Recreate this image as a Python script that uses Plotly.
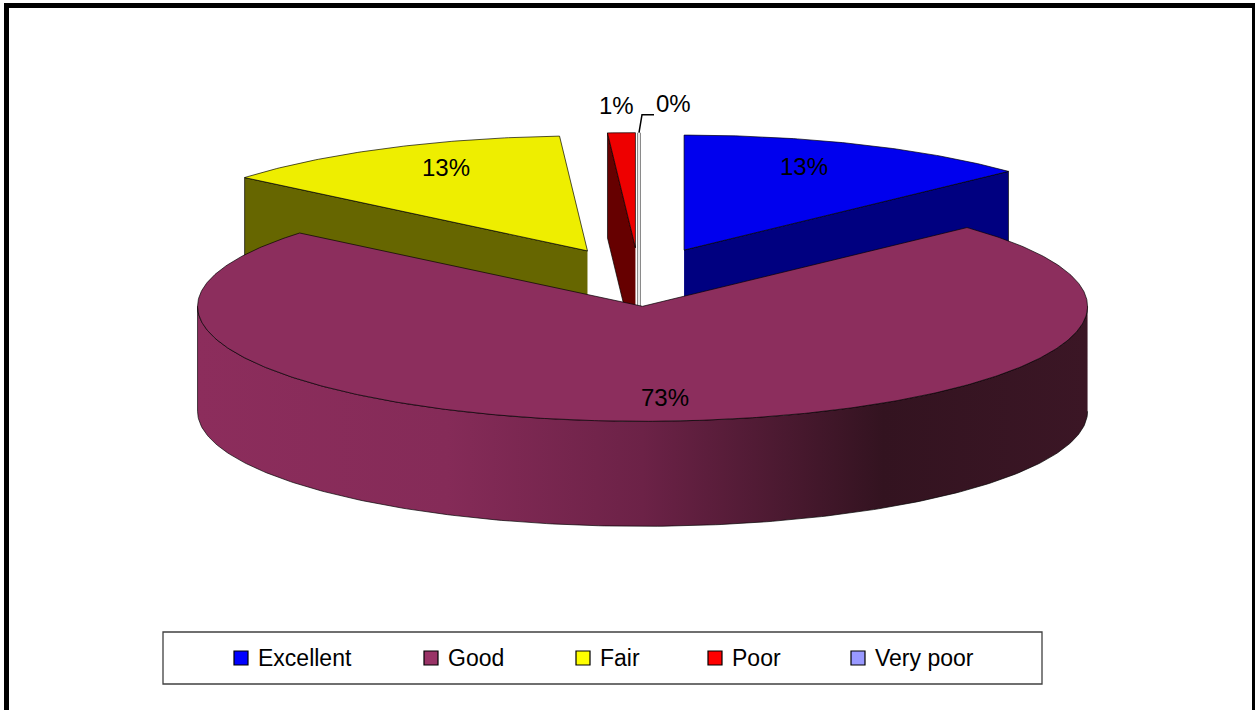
import numpy as np
import plotly.graph_objects as go

# ---- data -------------------------------------------------------------
categories = ["Excellent", "Good", "Fair", "Poor", "Very poor"]
shares = [13, 73, 13, 1, 0]          # percent of responses

# ---- styling ----------------------------------------------------------
top_colors = ["#0000EE", "#8C2E5D", "#EEEE00", "#EE0000", "#8F8FEE"]
side_colors = ["#000080", "#6E2349", "#666600", "#660000", "#5C5C99"]
legend_colors = ["#0000FF", "#993366", "#FFFF00", "#FF0000", "#9999FF"]
good_side_scale = [[0.0, "#8C2D5C"], [0.28, "#852B58"], [0.5, "#6C2247"],
                   [0.77, "#331320"], [1.0, "#3B1625"]]

W, H = 1255, 710
CX, CY = 639.0, 277.0      # pie centre (top face)
RX, RY = 445.0, 115.0      # projected radii of the top ellipse
DEPTH = 105.0              # thickness of the pie
EXPLODE = 0.255            # explosion as a fraction of the radius
EDGE = dict(color="rgba(0,0,0,0.85)", width=0.8)
FONT = "Liberation Sans"

# label placement: fraction of radius along the bisector + pixel nudge
label_frac = [0.68, 0.9, 0.7, 1.0, 1.0]
label_nudge = [(0, -12), (10, -12), (0, -12), (-5, -27), (34, -29)]

fig = go.Figure()


def rim(off, theta, dz=0.0):
    t = np.radians(theta)
    return off[0] + RX * np.sin(t), off[1] - RY * np.cos(t) + dz


def poly(xs, ys, color, **kw):
    fig.add_trace(go.Scatter(x=list(xs), y=list(ys), mode="lines", fill="toself",
                             fillcolor=color, line=EDGE, hoverinfo="skip",
                             showlegend=False, **kw))


total = float(sum(shares))
angles = np.concatenate([[0.0], np.cumsum(shares) / total * 360.0])
slices = []
for i, v in enumerate(shares):
    a0, a1 = angles[i], angles[i + 1]
    mid = (a0 + a1) / 2.0
    m = np.radians(mid)
    off = (CX + EXPLODE * RX * np.sin(m), CY - EXPLODE * RY * np.cos(m))
    slices.append(dict(i=i, a0=a0, a1=a1, mid=mid, off=off))

# paint from the back of the pie to the front
for s in sorted(slices, key=lambda s: -np.cos(np.radians(s["mid"]))):
    i, a0, a1, off = s["i"], s["a0"], s["a1"], s["off"]
    if a1 - a0 < 1e-9:
        # empty slice: only its edge is drawn
        xt, yt = rim(off, a0)
        xs = [off[0], xt, xt, off[0]]
        ys = [off[1], yt, yt + DEPTH, off[1] + DEPTH]
        fig.add_trace(go.Scatter(x=xs, y=ys, mode="lines",
                                 line=dict(color="#8A8A8A", width=4),
                                 hoverinfo="skip", showlegend=False))
        fig.add_trace(go.Scatter(x=xs, y=ys, mode="lines",
                                 line=dict(color="#FFFFFF", width=1.6),
                                 hoverinfo="skip", showlegend=False))
        continue
    # radial faces that turn toward the viewer
    for a, normal in ((a0, a0 - 90.0), (a1, a1 + 90.0)):
        if np.cos(np.radians(normal)) < -1e-6:
            xr, yr = rim(off, a)
            poly([off[0], xr, xr, off[0]],
                 [off[1], yr, yr + DEPTH, off[1] + DEPTH], side_colors[i])
    # outer wall (front half only)
    lo, hi = max(a0, 90.0), min(a1, 270.0)
    if hi > lo:
        th = np.linspace(lo, hi, 240)
        xt, yt = rim(off, th)
        xb, yb = rim(off, th[::-1], DEPTH)
        kw = {}
        if i == 1:
            kw["fillgradient"] = dict(type="horizontal", colorscale=good_side_scale)
        poly(np.concatenate([xt, xb]), np.concatenate([yt, yb]), side_colors[i], **kw)
    # top face
    th = np.linspace(a0, a1, max(4, int((a1 - a0) * 2)))
    xt, yt = rim(off, th)
    poly(np.concatenate([[off[0]], xt, [off[0]]]),
         np.concatenate([[off[1]], yt, [off[1]]]), top_colors[i])

# percentage labels
annotations = []
for s in slices:
    i, off = s["i"], s["off"]
    f = label_frac[i]
    m = np.radians(s["mid"])
    x = off[0] + f * RX * np.sin(m) + label_nudge[i][0]
    y = off[1] - f * RY * np.cos(m) + label_nudge[i][1]
    annotations.append(dict(x=x, y=y, text=f"{shares[i]}%", showarrow=False,
                            font=dict(family=FONT, size=24, color="#000000"),
                            xanchor="center", yanchor="middle"))
    if shares[i] == 0:
        # leader line for the empty slice
        xt, yt = rim(off, s["mid"])
        fig.add_trace(go.Scatter(x=[xt, xt + 3, xt + 15], y=[yt, yt - 18, yt - 18],
                                 mode="lines", line=dict(color="#000000", width=1.5),
                                 hoverinfo="skip", showlegend=False))

# legend box
shapes = [dict(type="rect", xref="x", yref="y", x0=163, x1=1042, y0=632, y1=684,
               line=dict(color="#404040", width=1.3), fillcolor="rgba(0,0,0,0)")]
legend_x = [234, 424, 576, 708, 851]
for i, name in enumerate(categories):
    x0 = legend_x[i]
    shapes.append(dict(type="rect", xref="x", yref="y", x0=x0, x1=x0 + 14,
                       y0=651, y1=665, fillcolor=legend_colors[i],
                       line=dict(color="#000000", width=1.2)))
    annotations.append(dict(x=x0 + 22, y=658, text=name, showarrow=False,
                            xanchor="left", yanchor="middle",
                            font=dict(family=FONT, size=23, color="#000000")))

# outer frame
shapes.append(dict(type="rect", xref="x", yref="y", x0=6.5, x1=1254.5, y0=5.5, y1=730,
                   line=dict(color="#000000", width=5), fillcolor="rgba(0,0,0,0)"))

fig.update_layout(
    width=W, height=H, autosize=False,
    margin=dict(l=0, r=0, t=0, b=0),
    paper_bgcolor="#FFFFFF", plot_bgcolor="#FFFFFF",
    xaxis=dict(range=[0, W], visible=False, fixedrange=True),
    yaxis=dict(range=[H, 0], visible=False, fixedrange=True),
    shapes=shapes, annotations=annotations, showlegend=False,
)

fig.write_html("out.html", config={"displayModeBar": False})
